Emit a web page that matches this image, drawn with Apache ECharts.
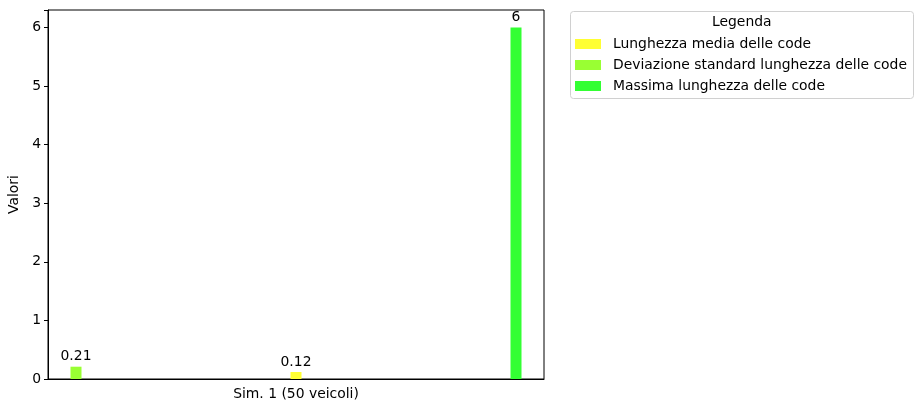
<!DOCTYPE html>
<html><head><meta charset="utf-8">
<script src="https://cdn.jsdelivr.net/npm/echarts@6/dist/echarts.min.js"></script>
<style>html,body{margin:0;padding:0;background:#fff}#c{width:923px;height:413px}</style>
</head><body><div id="c"></div>
<script>
const categories = ['Sim. 1 (50 veicoli)'];
const legendOrder = ['Lunghezza media delle code', 'Deviazione standard lunghezza delle code', 'Massima lunghezza delle code'];
const mediaValues = [0.12];
const deviazioneValues = [0.21];
const massimaValues = [6];
const yTicks = [0, 1, 2, 3, 4, 5, 6];

const F = 'DejaVu Sans';
const FS = 13.9;
const chart = echarts.init(document.getElementById('c'));
const lbl = { show: true, position: 'top', distance: 3, color: '#000', fontFamily: F, fontSize: FS,
  formatter: p => String(p.value) };
chart.setOption({
  animation: false,
  textStyle: { fontFamily: F },
  grid: { left: 48, right: 379, top: 10, bottom: 34, show: true, borderColor: '#000', borderWidth: 1, containLabel: false, outerBoundsMode: 'none' },
  legend: {
    orient: 'vertical', left: 575, top: 37, padding: 0, itemWidth: 26, itemHeight: 10, itemGap: 7,
    data: legendOrder, icon: 'rect',
    textStyle: { fontFamily: F, fontSize: FS, color: '#000', padding: [0, 0, 0, 7] }
  },
  graphic: [
    { type: 'rect', shape: { x: 570.5, y: 11.5, width: 343, height: 87, r: 3 }, style: { fill: 'rgba(255,255,255,0.8)', stroke: '#d0d0d0', lineWidth: 1 }, z: 0 },
    { type: 'text', left: 712, top: 15, style: { text: 'Legenda', font: FS + 'px "DejaVu Sans"', fill: '#000' }, z: 10 }
  ],
  xAxis: {
    type: 'category', data: categories,
    axisLine: { lineStyle: { color: '#000' } },
    axisTick: { alignWithLabel: true, length: 4, lineStyle: { color: '#000' } },
    axisLabel: { color: '#000', fontSize: FS, fontFamily: F, margin: 8 }
  },
  yAxis: {
    type: 'value', min: 0, max: 6.3, interval: 1,
    name: 'Valori', nameLocation: 'middle', nameGap: 23, nameRotate: 90,
    nameTextStyle: { color: '#000', fontSize: FS, fontFamily: F },
    axisLine: { show: true, lineStyle: { color: '#000' } },
    axisTick: { show: true, length: 4, lineStyle: { color: '#000' } },
    axisLabel: { color: '#000', fontSize: FS, fontFamily: F, margin: 7,
      formatter: v => yTicks.includes(v) ? String(v) : '' },
    splitLine: { show: false }
  },
  series: [
    { name: legendOrder[1], type: 'bar', data: deviazioneValues, barWidth: 11, barGap: '1900%', itemStyle: { color: '#99ff33' }, label: lbl },
    { name: legendOrder[0], type: 'bar', data: mediaValues, barWidth: 11, barGap: '1900%', itemStyle: { color: '#ffff33' }, label: lbl },
    { name: legendOrder[2], type: 'bar', data: massimaValues, barWidth: 11, barGap: '1900%', itemStyle: { color: '#33ff33' }, label: lbl }
  ]
});
</script></body></html>
